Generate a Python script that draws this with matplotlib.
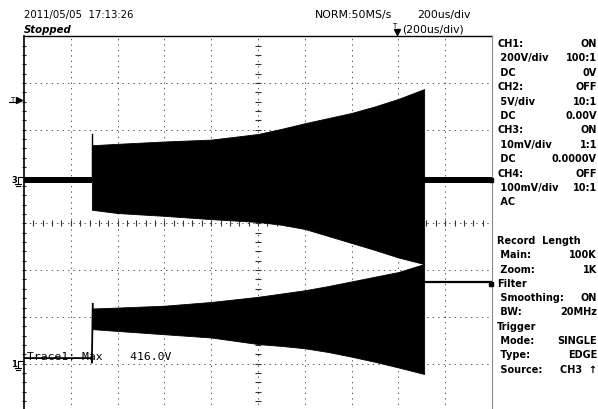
import numpy as np
import matplotlib
matplotlib.use("Agg")
import matplotlib.pyplot as plt
from matplotlib.lines import Line2D

W, H = 598, 410

# --- waveform data (screen divisions: x 0..10, y -4..4) ---
burst_x = [1.45, 2.0, 3.0, 4.0, 5.0, 5.5, 6.0, 6.5, 7.0, 7.5, 8.0, 8.55]
ch3_upper = [1.67, 1.70, 1.75, 1.79, 1.91, 2.02, 2.14, 2.25, 2.36, 2.50, 2.66, 2.87]
ch3_lower = [0.29, 0.22, 0.16, 0.09, 0.03, -0.03, -0.12, -0.27, -0.42, -0.57, -0.73, -0.87]
ch1_upper = [-1.82, -1.80, -1.76, -1.68, -1.57, -1.50, -1.43, -1.34, -1.24, -1.14, -1.04, -0.87]
ch1_lower = [-2.26, -2.30, -2.37, -2.44, -2.58, -2.62, -2.67, -2.75, -2.85, -2.96, -3.08, -3.22]

ch3_level = 0.93          # CH3 baseline before / after the burst
ch3_spike = 1.92
ch1_before = -2.88
ch1_after = -1.25

# --- readout text ---
header_left = "2011/05/05  17:13:26"
status = "Stopped"
acq = "NORM:50MS/s"
tdiv = "200us/div"
zdiv = "(200us/div)"
cursor_text = "Trace1: Max    416.0V"

panel_labels = ["CH1:", " 200V/div", " DC", "CH2:", " 5V/div", " DC", "CH3:", " 10mV/div",
                " DC", "CH4:", " 100mV/div", " AC"]
panel_values = ["ON", "100:1", "0V", "OFF", "10:1", "0.00V", "ON", "1:1",
                "0.0000V", "OFF", "10:1", ""]
panel2_labels = ["Record  Length", " Main:", " Zoom:", "Filter", " Smoothing:", " BW:",
                 "Trigger", " Mode:", " Type:", " Source:"]
panel2_values = ["", "100K", "1K", "", "ON", "20MHz", "", "SINGLE", "EDGE", "CH3  \u2191"]


def fx(px):
    return px / W


def fy(py):
    return 1 - py / H


fig = plt.figure(figsize=(W / 100, H / 100), dpi=100)
fig.patch.set_facecolor("white")

left, right, top, bottom = 24, 492, 37.2, 411.5
ax = fig.add_axes([fx(left), fy(bottom), (right - left) / W, (bottom - top) / H])
ax.set_xlim(0, 10)
ax.set_ylim(-4, 4)
ax.axis("off")

# grid
dot = (0, (1.4, 4.2))
for i in range(1, 10):
    ax.axvline(i, color="#555555", lw=0.7, ls=dot, zorder=1)
for j in range(-3, 4):
    ax.axhline(j, color="#555555", lw=0.7, ls=dot, zorder=1)
ticks = np.arange(0.2, 10, 0.2)
ax.plot(ticks, np.zeros_like(ticks), ls="none", marker="|", ms=4, mew=0.8, color="#333333", zorder=1)
vt = np.arange(-3.8, 4, 0.2)
ax.plot(np.full_like(vt, 5.0), vt, ls="none", marker="_", ms=4, mew=0.8, color="#333333", zorder=1)
ax.plot(np.full_like(vt, 0.0), vt, ls="none", marker="_", ms=3, mew=0.8, color="#222222", zorder=1,
        clip_on=False)

# CH3 trace
ax.fill_between([0, 1.45], ch3_level - 0.07, ch3_level + 0.07, color="black", lw=0, zorder=3)
ax.fill_between([8.55, 10], ch3_level - 0.07, ch3_level + 0.07, color="black", lw=0, zorder=3)
ax.fill_between(burst_x, ch3_lower, ch3_upper, color="black", lw=0.6, edgecolor="black", zorder=3)
ax.plot([1.45, 1.45], [ch3_level, ch3_spike], color="black", lw=1, zorder=3)

# CH1 trace
ax.plot([0, 1.45, 1.45, 1.47], [ch1_before, ch1_before, ch1_before - 0.1, ch1_upper[0] + 0.1],
        color="black", lw=1.3, zorder=3)
ax.fill_between(burst_x, ch1_lower, ch1_upper, color="black", lw=0.6, edgecolor="black", zorder=3)
ax.plot([8.55, 10], [ch1_after, ch1_after], color="black", lw=1.6, zorder=3)

# frame
fig.add_artist(Line2D([fx(left), fx(right)], [fy(top), fy(top)], color="black", lw=1.0))
fig.add_artist(Line2D([fx(left), fx(left)], [fy(top), fy(H)], color="black", lw=1.2))
fig.add_artist(Line2D([fx(right), fx(right)], [fy(top), fy(H)], color="#888888", lw=0.8))

# header
txt = dict(fontsize=7.8, fontfamily="DejaVu Sans", color="black", va="center", ha="left")
fig.text(fx(24), fy(15), header_left, fontsize=7.3, va="center", ha="left")
fig.text(fx(24), fy(30), status, fontsize=7.3, fontweight="bold", fontstyle="italic", va="center")
fig.text(fx(315), fy(15), acq, **txt)
fig.text(fx(417), fy(15), tdiv, **txt)
fig.text(fx(402), fy(30), zdiv, **txt)
# trigger position marker
fig.text(fx(394), fy(26), "T", fontsize=5, va="center", ha="center")
fig.add_artist(Line2D([fx(397.5)], [fy(33)], marker="v", ms=4, color="black"))

# left channel markers
fig.text(fx(14), fy(181), "3", fontsize=6, va="center", ha="center", fontweight="bold")
fig.text(fx(14), fy(365), "1", fontsize=6, va="center", ha="center", fontweight="bold")
for yy in (181, 365):
    fig.add_artist(Line2D([fx(18), fx(18), fx(23)], [fy(yy + 4), fy(yy - 3), fy(yy - 3)], color="black", lw=0.8))
    fig.add_artist(Line2D([fx(15), fx(21)], [fy(yy + 4), fy(yy + 4)], color="black", lw=0.8))
    fig.add_artist(Line2D([fx(16), fx(20)], [fy(yy + 6), fy(yy + 6)], color="black", lw=0.8))
fig.text(fx(12), fy(100), "T", fontsize=5, va="center", ha="center")
fig.add_artist(Line2D([fx(9), fx(16)], [fy(103), fy(103)], color="black", lw=0.8))
fig.add_artist(Line2D([fx(19)], [fy(101)], marker=">", ms=4, color="black"))

# right-edge level markers
for yy in (181, 285):
    fig.add_artist(Line2D([fx(491)], [fy(yy)], marker="s", ms=2.5, color="black"))

# cursor readout (drawn under the traces)
ax.text(0.06, -2.83, cursor_text, fontsize=8.2, fontfamily="DejaVu Sans Mono", va="center", ha="left",
        zorder=2)

# right settings panel
pfs = 7.0
for k, (lab, val) in enumerate(zip(panel_labels, panel_values)):
    y = 44 + k * 14.4
    fig.text(fx(497), fy(y), lab, fontsize=pfs, fontweight="bold", va="center", ha="left")
    fig.text(fx(597), fy(y), val, fontsize=pfs, fontweight="bold", va="center", ha="right")
for k, (lab, val) in enumerate(zip(panel2_labels, panel2_values)):
    y = 241 + k * 14.3
    fig.text(fx(497), fy(y), lab, fontsize=pfs, fontweight="bold", va="center", ha="left")
    fig.text(fx(597), fy(y), val, fontsize=pfs, fontweight="bold", va="center", ha="right")

fig.savefig("out.png", dpi=100, facecolor="white")
